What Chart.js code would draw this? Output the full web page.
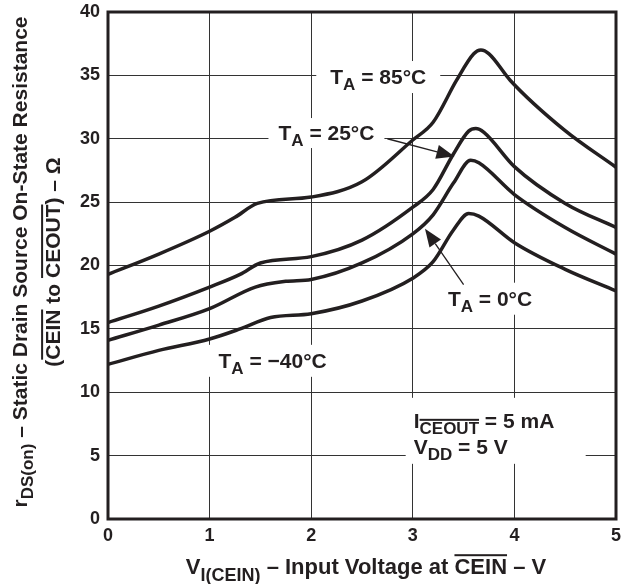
<!DOCTYPE html>
<html>
<head>
<meta charset="utf-8">
<script src="https://cdn.jsdelivr.net/npm/chart.js@4"></script>
<style>
  html, body { margin: 0; padding: 0; background: #fff; }
  canvas { display: block; }
</style>
</head>
<body>
<canvas id="chart" width="621" height="584"></canvas>
<script>
// input voltage (V) and on-state resistance (ohm), one pair per temperature
var vIn85 = [0, 0.5, 1, 1.25, 1.47, 2, 2.5, 3, 3.2, 3.43, 3.6, 3.67, 3.75, 3.96, 4.49, 5]
var r85 = [19.3, 20.9, 22.7, 23.8, 24.9, 25.4, 26.6, 29.9, 31.3, 34.6, 36.7, 37.0, 36.7, 34.6, 30.7, 27.75]

var vIn25 = [0, 0.5, 1, 1.3, 1.5, 2, 2.5, 3, 3.2, 3.4, 3.55, 3.62, 3.7, 4, 4.5, 5]
var r25 = [15.5, 16.8, 18.3, 19.3, 20.2, 20.7, 22.0, 24.6, 26.0, 28.8, 30.6, 30.8, 30.5, 27.8, 24.9, 23.0]

var vIn0 = [0, 0.5, 1, 1.45, 1.75, 2, 2.5, 3, 3.2, 3.4, 3.57, 3.65, 4, 4.5, 5]
var r0 = [14.1, 15.3, 16.6, 18.3, 18.75, 18.9, 20.2, 22.5, 24.0, 26.5, 28.3, 28.1, 25.6, 23.0, 20.9]

var vInM40 = [0, 0.5, 1, 1.3, 1.6, 2, 2.5, 3, 3.2, 3.4, 3.55, 3.65, 4, 4.5, 5]
var rM40 = [12.2, 13.3, 14.2, 15.0, 15.9, 16.2, 17.2, 19.0, 20.3, 22.8, 24.1, 23.9, 21.8, 19.7, 18.0]

var xTicks = [0, 1, 2, 3, 4, 5]
var yTicks = [0, 5, 10, 15, 20, 25, 30, 35, 40]

var INK = '#231f20'
var FONT = '"Liberation Sans", Arial, sans-serif'

function toPoints (xs, ys) {
  return xs.map(function (x, i) { return { x: x, y: ys[i] } })
}

function curve (xs, ys) {
  return {
    data: toPoints(xs, ys),
    borderColor: INK,
    borderWidth: 3.5,
    pointRadius: 0,
    fill: false,
    cubicInterpolationMode: 'monotone'
  }
}

// text made of pieces: {t, sub, over}
function richWidth (ctx, parts, size) {
  var w = 0
  parts.forEach(function (p) {
    ctx.font = 'bold ' + (p.sub ? Math.round(size * 0.8) : size) + 'px ' + FONT
    w += ctx.measureText(p.t).width
  })
  return w
}

function drawRich (ctx, parts, x, y, size, align) {
  var w = richWidth(ctx, parts, size)
  var cx = align === 'center' ? x - w / 2 : x
  ctx.textAlign = 'left'
  ctx.textBaseline = 'alphabetic'
  ctx.fillStyle = INK
  parts.forEach(function (p) {
    var fs = p.sub ? Math.round(size * 0.8) : size
    ctx.font = 'bold ' + fs + 'px ' + FONT
    var dy = p.sub ? size * 0.3 : 0
    var pw = ctx.measureText(p.t).width
    ctx.fillText(p.t, cx, y + dy)
    if (p.over) {
      ctx.fillRect(cx, y + dy - fs * 0.9, pw, 2)
    }
    cx += pw
  })
  return w
}

// curve labels, centred at data coordinates
var labels = [
  { x: 2.66, y: 34.87, parts: [{ t: 'T' }, { t: 'A', sub: true }, { t: ' = 85\u00b0C' }], box: [14, 16] },
  { x: 2.15, y: 30.45, parts: [{ t: 'T' }, { t: 'A', sub: true }, { t: ' = 25\u00b0C' }], box: [10, 15] },
  { x: 3.76, y: 17.38, parts: [{ t: 'T' }, { t: 'A', sub: true }, { t: ' = 0\u00b0C' }], box: [8, 16] },
  { x: 1.62, y: 12.48, parts: [{ t: 'T' }, { t: 'A', sub: true }, { t: ' = \u221240\u00b0C' }], box: [14, 16] }
]

var arrows = [
  { from: [2.75, 30.0], to: [3.41, 28.6] },
  { from: [3.5, 18.5], to: [3.12, 22.9] }
]

var decorPlugin = {
  id: 'decor',
  beforeDatasetsDraw: function (chart) {
    var ctx = chart.ctx
    var xs = chart.scales.x
    var ys = chart.scales.y
    ctx.save()
    labels.forEach(function (l) {
      var px = xs.getPixelForValue(l.x)
      var py = ys.getPixelForValue(l.y)
      var w = richWidth(ctx, l.parts, 21)
      ctx.fillStyle = '#fff'
      ctx.fillRect(px - w / 2 - l.box[0], py - l.box[1], w + 2 * l.box[0], 2 * l.box[1])
      drawRich(ctx, l.parts, px, py + 7, 21, 'center')
    })
    // test conditions box
    var bx = xs.getPixelForValue(2.93)
    var by = ys.getPixelForValue(9.56)
    ctx.fillStyle = '#fff'
    ctx.fillRect(bx, by, 180, 66)
    drawRich(ctx, [{ t: 'I' }, { t: 'CEOUT', sub: true, over: true }, { t: ' = 5 mA' }], bx + 8, by + 30, 21, 'left')
    drawRich(ctx, [{ t: 'V' }, { t: 'DD', sub: true }, { t: ' = 5 V' }], bx + 8, by + 56, 21, 'left')
    ctx.restore()
  },
  afterDatasetsDraw: function (chart) {
    var ctx = chart.ctx
    var xs = chart.scales.x
    var ys = chart.scales.y
    var area = chart.chartArea
    ctx.save()
    ctx.strokeStyle = INK
    ctx.fillStyle = INK
    arrows.forEach(function (a) {
      var x1 = xs.getPixelForValue(a.from[0]), y1 = ys.getPixelForValue(a.from[1])
      var x2 = xs.getPixelForValue(a.to[0]), y2 = ys.getPixelForValue(a.to[1])
      var ang = Math.atan2(y2 - y1, x2 - x1)
      var hl = 18, hw = 7
      var bx = x2 - hl * Math.cos(ang), by = y2 - hl * Math.sin(ang)
      ctx.lineWidth = 1.3
      ctx.beginPath()
      ctx.moveTo(x1, y1)
      ctx.lineTo(bx, by)
      ctx.stroke()
      ctx.beginPath()
      ctx.moveTo(x2, y2)
      ctx.lineTo(bx + hw * Math.sin(ang), by - hw * Math.cos(ang))
      ctx.lineTo(bx - hw * Math.sin(ang), by + hw * Math.cos(ang))
      ctx.closePath()
      ctx.fill()
    })
    ctx.lineWidth = 3
    ctx.strokeRect(area.left, area.top, area.right - area.left, area.bottom - area.top)
    ctx.restore()
  },
  afterDraw: function (chart) {
    var ctx = chart.ctx
    ctx.save()
    drawRich(ctx, [{ t: 'V' }, { t: 'I(CEIN)', sub: true }, { t: ' \u2013 Input Voltage at ' }, { t: 'CEIN', over: true }, { t: ' \u2013 V' }],
      366, 574, 22, 'center')
    ctx.translate(0, 262)
    ctx.rotate(-Math.PI / 2)
    drawRich(ctx, [{ t: 'r' }, { t: 'DS(on)', sub: true }, { t: ' \u2013 Static Drain Source On-State Resistance' }], 0, 27, 21, 'center')
    drawRich(ctx, [{ t: '(' }, { t: 'CEIN', over: true }, { t: ' to ' }, { t: 'CEOUT', over: true }, { t: ') \u2013 \u03a9' }], 0, 60, 21, 'center')
    ctx.restore()
  }
}

new Chart(document.getElementById('chart'), {
  type: 'line',
  data: {
    datasets: [curve(vIn85, r85), curve(vIn25, r25), curve(vIn0, r0), curve(vInM40, rM40)]
  },
  options: {
    responsive: false,
    animation: false,
    events: [],
    layout: { padding: { top: 12, right: 5, left: 0, bottom: 0 } },
    plugins: { legend: { display: false }, tooltip: { enabled: false } },
    scales: {
      x: {
        type: 'linear',
        min: 0,
        max: 5,
        afterBuildTicks: function (s) { s.ticks = xTicks.map(function (v) { return { value: v } }) },
        afterFit: function (s) { s.height = 65; s.paddingLeft = 0; s.paddingRight = 0 },
        ticks: { color: INK, font: { family: FONT, size: 18, weight: 'bold' }, padding: 6, maxRotation: 0 },
        grid: { color: '#333', lineWidth: 1, drawTicks: false },
        border: { display: false }
      },
      y: {
        min: 0,
        max: 40,
        afterBuildTicks: function (s) { s.ticks = yTicks.map(function (v) { return { value: v } }) },
        afterFit: function (s) { s.width = 108; s.paddingTop = 0; s.paddingBottom = 0 },
        ticks: { color: INK, font: { family: FONT, size: 18, weight: 'bold' }, padding: 8 },
        grid: { color: '#333', lineWidth: 1, drawTicks: false },
        border: { display: false }
      }
    }
  },
  plugins: [decorPlugin]
})
</script>
</body>
</html>
